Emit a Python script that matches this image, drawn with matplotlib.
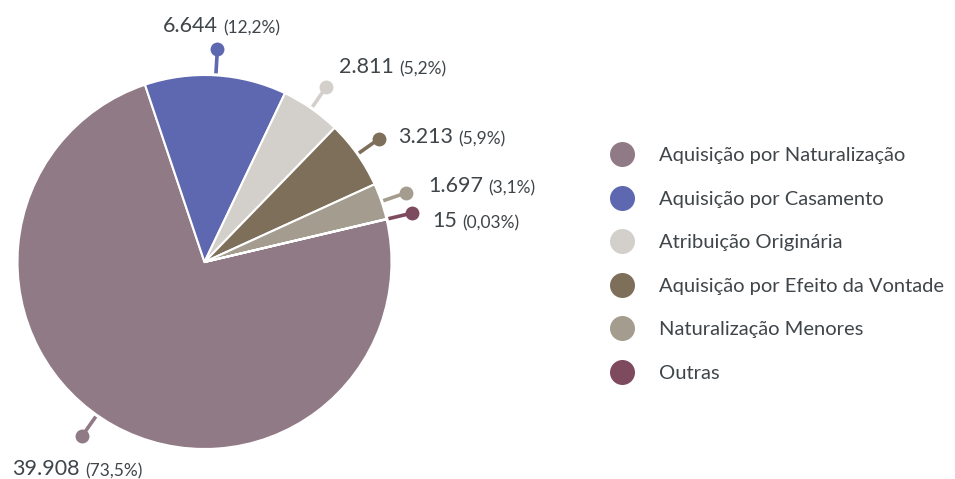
import numpy as np
import matplotlib.pyplot as plt
from matplotlib.lines import Line2D

plt.rcParams['font.family'] = ['Lato', 'DejaVu Sans']

# data
categories = ['Aquisição por Naturalização', 'Aquisição por Casamento',
              'Atribuição Originária', 'Aquisição por Efeito da Vontade',
              'Naturalização Menores', 'Outras']
values = [39908, 6644, 2811, 3213, 1697, 15]
value_labels = ['39.908', '6.644', '2.811', '3.213', '1.697', '15']
pct_labels = ['(73,5%)', '(12,2%)', '(5,2%)', '(5,9%)', '(3,1%)', '(0,03%)']
colors = ['#907a86', '#5d68b0', '#d3cfcb', '#7e6f5b', '#a49d8f', '#7d4a5e']

W, H = 955, 479
fig = plt.figure(figsize=(W / 100, H / 100), dpi=100)
ax = fig.add_axes([0, 0, 1, 1])

cx, cy, R = 204.5, H - 262, 187
wedges, _ = ax.pie(values, colors=colors, startangle=13.2, counterclock=False,
                   center=(cx, cy), radius=R,
                   wedgeprops=dict(edgecolor='white', linewidth=1.5))

# label text positions (left x, baseline y in pixels from top)
text_pos = [(12, 475), (163, 32), (339, 73), (398, 143), (428, 192), (432, 227)]
angle_nudge = [-6, 0, 0, 0, 0, 0]
txt_col = '#3f4549'

for i, w in enumerate(wedges):
    a = np.deg2rad((w.theta1 + w.theta2) / 2 + angle_nudge[i])
    x0, y0 = cx + 189 * np.cos(a), cy + 189 * np.sin(a)
    x1, y1 = cx + 213 * np.cos(a), cy + 213 * np.sin(a)
    ax.plot([x0, x1], [y0, y1], color=colors[i], lw=2.6, solid_capstyle='butt')
    ax.plot(x1, y1, 'o', color=colors[i], ms=10, mec='none')
    tx, ty = text_pos[i]
    t = ax.text(tx, H - ty, value_labels[i], fontsize=15.5, color=txt_col,
                ha='left', va='baseline')
    ax.annotate(pct_labels[i], xy=(1, 0), xycoords=t, xytext=(4, 0),
                textcoords='offset points', fontsize=12.5, color=txt_col,
                ha='left', va='bottom')

handles = [Line2D([], [], marker='o', ls='none', color=c, ms=18, mec='none')
           for c in colors]
ax.legend(handles, categories, loc='upper left', bbox_to_anchor=(603 / W, 1 - 139 / H),
          frameon=False, fontsize=14.5, labelcolor=txt_col, labelspacing=1.31,
          handletextpad=1.3, handlelength=1.1, borderaxespad=0)

ax.set_xlim(0, W)
ax.set_ylim(0, H)
ax.set_aspect('auto')
ax.axis('off')

fig.savefig('out.png', dpi=100)
